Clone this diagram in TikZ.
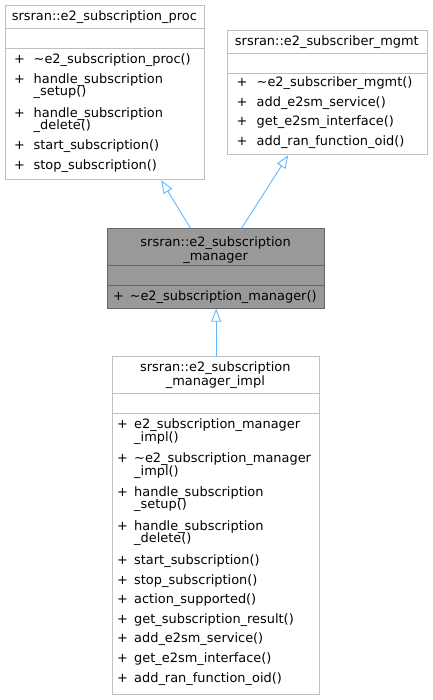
\documentclass[tikz,border=0pt]{standalone}
\usepackage{fontspec}
\newfontfamily\dvs{DejaVu Sans}
\usetikzlibrary{arrows.meta}
\definecolor{boxgray}{HTML}{BFBFBF}
\definecolor{mgrfill}{HTML}{999999}
\definecolor{mgrdraw}{HTML}{666666}
\definecolor{inhblue}{HTML}{63B8FF}
\begin{document}
\begin{tikzpicture}[x=1pt,y=-1pt,
  cls/.style={draw=boxgray, fill=white, line width=1pt, rectangle, inner sep=0pt, anchor=north west},
  mgr/.style={draw=mgrdraw, fill=mgrfill, line width=1pt, rectangle, inner sep=0pt, anchor=north west},
  sepl/.style={draw=boxgray, line width=1pt},
  msepl/.style={draw=mgrdraw, line width=1pt},
  mem/.style={anchor=base west, inner sep=0pt, font=\dvs\fontsize{12.92}{15}\selectfont, text=black},
  ttl/.style={anchor=base, inner sep=0pt, font=\dvs\fontsize{12.92}{15}\selectfont, text=black},
  inh/.style={draw=inhblue, line width=0.9pt, -{Triangle[open, length=13pt, width=10pt]}}]
\fill[white] (0,0) rectangle (432,700);
\useasboundingbox (0,0) rectangle (432,700);

% ---- box 1: e2_subscription_proc
\node[cls, minimum width=199.3pt, minimum height=174.6pt] (b1) at (4.7,4.7) {};
\draw[sepl] (4.7,28.7) -- (204,28.7);
\draw[sepl] (4.7,48.7) -- (204,48.7);
\node[ttl] (b1t) at (104.35,20.7) {srsran::e2\_subscription\_proc};
\node[mem] (b1p1) at (13.8,63.5) {+};
\node[mem] (b1m1) at (33.5,63.5) {\textasciitilde e2\_subscription\_proc()};
\node[mem] (b1p2) at (13.8,83.3) {+};
\node[mem] (b1m2) at (33.5,83.3) {handle\_subscription};
\node[mem] (b1m2b) at (33.5,96) {\_setup()};
\node[mem] (b1p3) at (13.8,117.4) {+};
\node[mem] (b1m3) at (33.5,117.4) {handle\_subscription};
\node[mem] (b1m3b) at (33.5,130) {\_delete()};
\node[mem] (b1p4) at (13.8,150) {+};
\node[mem] (b1m4) at (33.5,150) {start\_subscription()};
\node[mem] (b1p5) at (13.8,169.6) {+};
\node[mem] (b1m5) at (33.5,169.6) {stop\_subscription()};

% ---- box 2: e2_subscriber_mgmt
\node[cls, minimum width=199.7pt, minimum height=124.3pt] (b2) at (227,30) {};
\draw[sepl] (227,53.3) -- (426.7,53.3);
\draw[sepl] (227,73.3) -- (426.7,73.3);
\node[ttl] (b2t) at (326.85,45.7) {srsran::e2\_subscriber\_mgmt};
\node[mem] (b2p1) at (236.5,87) {+};
\node[mem] (b2m1) at (256.5,87) {\textasciitilde e2\_subscriber\_mgmt()};
\node[mem] (b2p2) at (236.5,106.5) {+};
\node[mem] (b2m2) at (256.5,106.5) {add\_e2sm\_service()};
\node[mem] (b2p3) at (236.5,126) {+};
\node[mem] (b2m3) at (256.5,126) {get\_e2sm\_interface()};
\node[mem] (b2p4) at (236.5,145.5) {+};
\node[mem] (b2m4) at (256.5,145.5) {add\_ran\_function\_oid()};

% ---- box 3: e2_subscription_manager
\node[mgr, minimum width=217.3pt, minimum height=79.4pt] (b3) at (107,228.3) {};
\draw[msepl] (107,265.5) -- (324.3,265.5);
\draw[msepl] (107,285.5) -- (324.3,285.5);
\node[ttl] (b3t1) at (215.65,247) {srsran::e2\_subscription};
\node[ttl] (b3t2) at (215.65,260.5) {\_manager};
\node[mem] (b3p1) at (113,300) {+};
\node[mem] (b3m1) at (129.5,300) {\textasciitilde e2\_subscription\_manager()};

% ---- box 4: e2_subscription_manager_impl
\node[cls, minimum width=207.3pt, minimum height=338pt] (b4) at (111.7,356) {};
\draw[sepl] (111.7,393) -- (319,393);
\draw[sepl] (111.7,413) -- (319,413);
\node[ttl] (b4t1) at (215.35,371) {srsran::e2\_subscription};
\node[ttl] (b4t2) at (215.35,385) {\_manager\_impl};
\node[mem] (b4p1) at (117,428) {+};
\node[mem] (b4m1) at (134,428) {e2\_subscription\_manager};
\node[mem] (b4m1b) at (134,441) {\_impl()};
\node[mem] (b4p2) at (117,462) {+};
\node[mem] (b4m2) at (134,462) {\textasciitilde e2\_subscription\_manager};
\node[mem] (b4m2b) at (134,475) {\_impl()};
\node[mem] (b4p3) at (117,496) {+};
\node[mem] (b4m3) at (134,496) {handle\_subscription};
\node[mem] (b4m3b) at (134,508.8) {\_setup()};
\node[mem] (b4p4) at (117,530) {+};
\node[mem] (b4m4) at (134,530) {handle\_subscription};
\node[mem] (b4m4b) at (134,542.8) {\_delete()};
\node[mem] (b4p5) at (117,564.5) {+};
\node[mem] (b4m5) at (134,564.5) {start\_subscription()};
\node[mem] (b4p6) at (117,584) {+};
\node[mem] (b4m6) at (134,584) {stop\_subscription()};
\node[mem] (b4p7) at (117,603.6) {+};
\node[mem] (b4m7) at (134,603.6) {action\_supported()};
\node[mem] (b4p8) at (117,623.2) {+};
\node[mem] (b4m8) at (134,623.2) {get\_subscription\_result()};
\node[mem] (b4p9) at (117,642.8) {+};
\node[mem] (b4m9) at (134,642.8) {add\_e2sm\_service()};
\node[mem] (b4p10) at (117,662.4) {+};
\node[mem] (b4m10) at (134,662.4) {get\_e2sm\_interface()};
\node[mem] (b4p11) at (117,682) {+};
\node[mem] (b4m11) at (134,682) {add\_ran\_function\_oid()};

% ---- inheritance connectors
\draw[inh] ([xshift=-25.65pt]b3.north) -- ([xshift=56.35pt]b1.south);
\draw[inh] ([xshift=25.35pt]b3.north) -- ([xshift=-39.15pt]b2.south);
\draw[inh] (b4.north -| b3.south) -- (b3.south);
\end{tikzpicture}
\end{document}
